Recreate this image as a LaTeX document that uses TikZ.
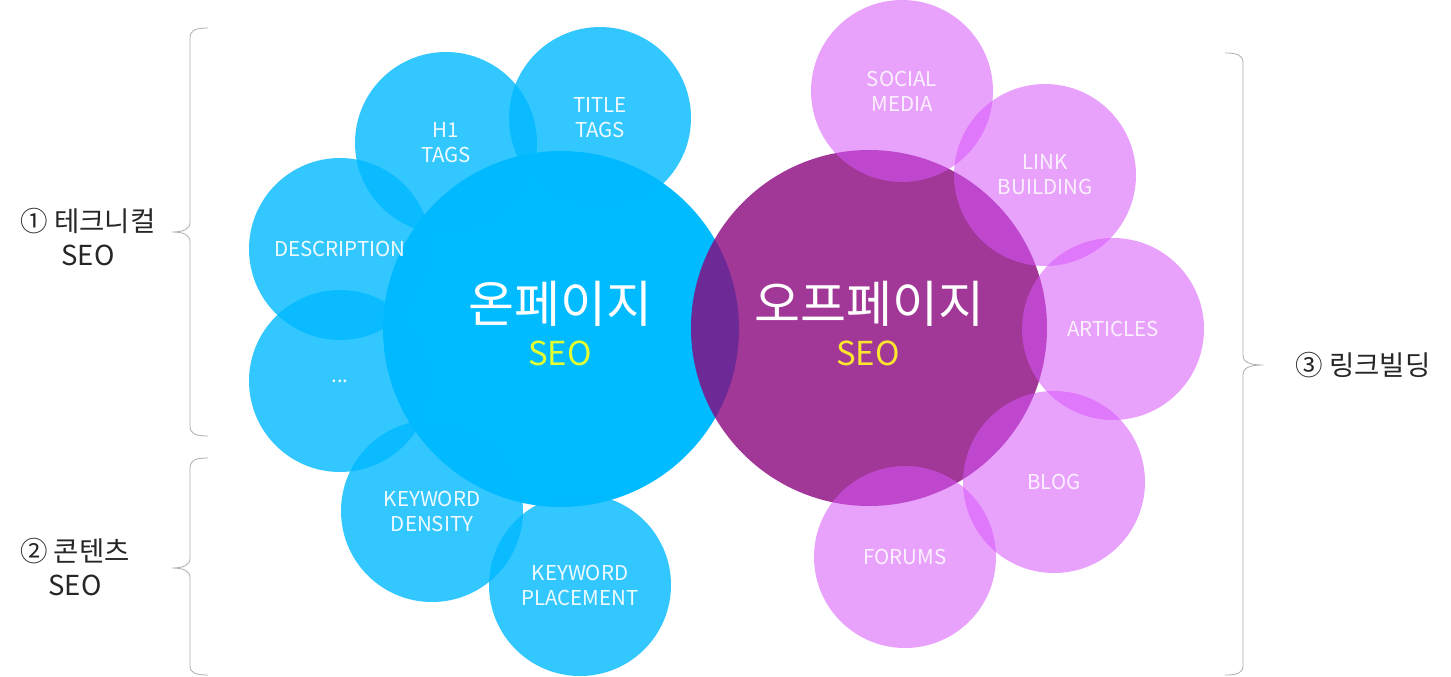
\documentclass[tikz,border=0pt]{standalone}
\usepackage{fontspec}
\setmainfont{Noto Sans CJK KR}
\definecolor{onblue}{HTML}{00BBFF}
\definecolor{petalblue}{HTML}{00B9FF}
\definecolor{offpurple}{RGB}{137,5,124}
\definecolor{petalpink}{RGB}{215,85,250}
\definecolor{seolime}{HTML}{E2FF30}
\definecolor{seogold}{HTML}{FFE62E}

\begin{document}
\begin{tikzpicture}[x=1pt,y=-1pt,
  petal/.style={circle,minimum size=182pt,inner sep=0pt,align=center,
    text=white,font=\fontsize{20.5}{25}\selectfont},
  bluepetal/.style={petal,fill=petalblue,fill opacity=.8,text opacity=.92},
  pinkpetal/.style={petal,fill=petalpink,fill opacity=.55,text opacity=.85},
  core/.style={circle,minimum size=356pt,inner sep=0pt},
  coretext/.style={text=white,font=\fontsize{50}{54}\selectfont},
  seotext/.style={font=\fontsize{33}{36}\selectfont},
  side/.style={align=center,text=black!85,font=\fontsize{27.5}{34}\selectfont},
  bracket/.style={draw=gray!65,line width=.8pt}]
\useasboundingbox (0,0) rectangle (1451,677);
%
% two big circles
\node[core,fill=onblue] (on) at (561,329) {};
\node[core,fill=offpurple,fill opacity=.8] (off) at (869,328) {};
%
% petals round on-page
\foreach \nm/\pos/\txt in {title/{600,118}/{TITLE\\TAGS},h1/{446,143}/{H1\\TAGS},
  desc/{340,249}/{DESCRIPTION},dots/{340,381}/{...},
  density/{432,511}/{KEYWORD\\DENSITY},placement/{580,585}/{KEYWORD\\PLACEMENT}}
  \node[bluepetal] (\nm) at (\pos) {\txt};
%
% petals round off-page
\foreach \nm/\pos/\txt in {social/{902,91}/{SOCIAL\\MEDIA},linkb/{1045,175}/{LINK\\BUILDING},
  articles/{1113,329}/{ARTICLES},blog/{1054,482}/{BLOG},forums/{905,557}/{FORUMS}}
  \node[pinkpetal] (\nm) at (\pos) {\txt};
%
% titles
\node[coretext] (ontitle) at (560,304) {온페이지};
\node[seotext,text=seolime] (onseo) at (560,353) {SEO};
\node[coretext] (offtitle) at (869,304) {오프페이지};
\node[seotext,text=seogold] (offseo) at (868,353) {SEO};
%
% braces and side labels
\draw[bracket] (208,28) .. controls (196,28) and (190,30) .. (190,38) -- (190,222)
  .. controls (190,229) and (184,232) .. (172,232) .. controls (184,232) and (190,235) .. (190,242)
  -- (190,426) .. controls (190,434) and (196,436) .. (208,436);
\draw[bracket] (208,458) .. controls (196,458) and (190,460) .. (190,468) -- (190,558)
  .. controls (190,565) and (184,568) .. (172,568) .. controls (184,568) and (190,571) .. (190,578)
  -- (190,666) .. controls (190,673) and (196,675) .. (208,675);
\draw[bracket] (1225,53) .. controls (1237,53) and (1243,55) .. (1243,63) -- (1243,355)
  .. controls (1243,362) and (1249,365) .. (1263,365) .. controls (1249,365) and (1243,368) .. (1243,375)
  -- (1243,666) .. controls (1243,673) and (1237,675) .. (1225,675);
\node[side] (tech) at (88,237) {① 테크니컬\\SEO};
\node[side] (content) at (75,567) {② 콘텐츠\\SEO};
\node[side] (linkbuild) at (1363,365) {③ 링크빌딩};
\end{tikzpicture}
\end{document}
